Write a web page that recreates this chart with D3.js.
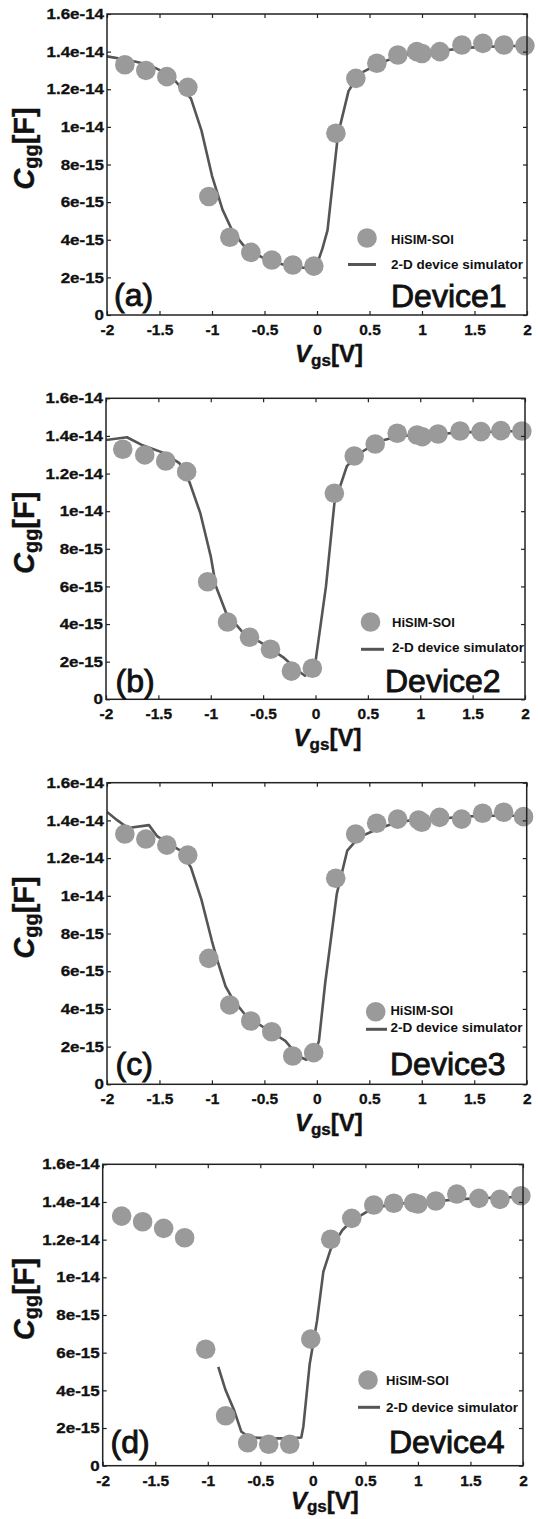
<!DOCTYPE html>
<html>
<head>
<meta charset="utf-8">
<script src="https://cdn.jsdelivr.net/npm/d3@7"></script>
<style>
  body { margin: 0; background: #fff; }
  text { font-family: "Liberation Sans", Arial, sans-serif; }
</style>
</head>
<body>
<script>
// ---- chart data (Cgg in units of 1e-15 F, Vgs in V) ----
var panelLabels = ["(a)", "(b)", "(c)", "(d)"];
var deviceNames = ["Device1", "Device2", "Device3", "Device4"];
var legendNames = ["HiSIM-SOI", "2-D device simulator"];

var xTicks = [-2, -1.5, -1, -0.5, 0, 0.5, 1, 1.5, 2];
var xTickLabels = ["-2", "-1.5", "-1", "-0.5", "0", "0.5", "1", "1.5", "2"];
var yTicks = [0, 2, 4, 6, 8, 10, 12, 14, 16];
var yTickLabels = ["0", "2e-15", "4e-15", "6e-15", "8e-15", "1e-14", "1.2e-14", "1.4e-14", "1.6e-14"];

// HiSIM-SOI (circles)
var hisimVgs1 = [-1.83, -1.63, -1.43, -1.23, -1.03, -0.83, -0.63, -0.43, -0.23, -0.03, 0.18, 0.37, 0.57, 0.77, 0.95, 1.0, 1.17, 1.38, 1.58, 1.78, 1.98];
var hisimCgg1 = [13.3, 13.0, 12.67, 12.1, 6.3, 4.13, 3.33, 2.92, 2.66, 2.6, 9.66, 12.58, 13.38, 13.82, 14.0, 13.9, 14.0, 14.35, 14.44, 14.35, 14.32];
var hisimVgs2 = [-1.84, -1.63, -1.43, -1.23, -1.03, -0.84, -0.63, -0.43, -0.23, -0.03, 0.18, 0.37, 0.57, 0.78, 0.97, 1.02, 1.17, 1.38, 1.58, 1.77, 1.97];
var hisimCgg2 = [13.29, 12.99, 12.67, 12.1, 6.25, 4.11, 3.3, 2.66, 1.5, 1.65, 10.95, 12.93, 13.57, 14.14, 14.05, 13.96, 14.1, 14.26, 14.23, 14.28, 14.26];
var hisimVgs3 = [-1.83, -1.63, -1.43, -1.23, -1.03, -0.83, -0.63, -0.43, -0.23, -0.03, 0.18, 0.37, 0.57, 0.77, 0.97, 1.0, 1.17, 1.38, 1.58, 1.78, 1.97];
var hisimCgg3 = [13.28, 13.01, 12.69, 12.16, 6.68, 4.21, 3.36, 2.79, 1.5, 1.68, 10.93, 13.28, 13.85, 14.07, 14.02, 13.9, 14.16, 14.07, 14.38, 14.43, 14.2];
var hisimVgs4 = [-1.82, -1.62, -1.42, -1.22, -1.02, -0.83, -0.62, -0.42, -0.22, -0.02, 0.17, 0.37, 0.58, 0.77, 0.96, 1.0, 1.17, 1.37, 1.58, 1.78, 1.98];
var hisimCgg4 = [13.25, 12.95, 12.6, 12.1, 6.18, 2.65, 1.22, 1.14, 1.14, 6.72, 12.02, 13.13, 13.84, 13.93, 13.96, 13.89, 14.05, 14.42, 14.19, 14.14, 14.33];

// 2-D device simulator (lines)
var simVgs1 = [-2, -1.8, -1.6, -1.4, -1.2, -1.1, -1.0, -0.9, -0.8, -0.7, -0.6, -0.5, -0.4, -0.3, -0.2, -0.1, 0.0, 0.05, 0.1, 0.2, 0.3, 0.4, 0.6, 0.8, 1.0, 1.2, 1.4, 1.6, 1.8, 2.0];
var simCgg1 = [13.75, 13.55, 13.3, 12.75, 11.5, 9.8, 7.4, 5.6, 4.4, 3.7, 3.3, 3.0, 2.8, 2.65, 2.55, 2.5, 2.7, 3.5, 4.5, 9.6, 11.9, 12.8, 13.4, 13.8, 14.0, 14.05, 14.2, 14.25, 14.3, 14.3];
var simVgs2 = [-2, -1.8, -1.65, -1.45, -1.3, -1.2, -1.1, -1.0, -0.95, -0.85, -0.7, -0.5, -0.3, -0.15, -0.1, -0.02, 0.0, 0.1, 0.18, 0.3, 0.4, 0.6, 0.8, 1.0, 1.2, 1.4, 1.6, 1.8, 2.0];
var simCgg2 = [13.78, 13.93, 13.5, 13.1, 12.55, 11.5, 9.9, 7.6, 6.0, 4.55, 3.6, 2.95, 2.2, 1.45, 1.25, 1.6, 2.0, 6.0, 10.4, 12.4, 13.0, 13.7, 14.0, 14.05, 14.1, 14.2, 14.2, 14.25, 14.25];
var simVgs3 = [-2, -1.9, -1.8, -1.6, -1.52, -1.42, -1.3, -1.2, -1.1, -1.0, -0.95, -0.87, -0.8, -0.67, -0.5, -0.3, -0.18, -0.1, -0.02, 0.02, 0.08, 0.12, 0.19, 0.29, 0.4, 0.6, 0.8, 1.0, 1.2, 1.4, 1.6, 1.8, 2.0];
var simCgg3 = [14.45, 14.0, 13.6, 13.75, 13.15, 12.8, 12.4, 11.5, 9.8, 7.6, 6.6, 5.2, 4.5, 3.6, 3.0, 2.3, 1.5, 1.3, 1.6, 2.3, 5.4, 7.1, 10.1, 12.4, 13.1, 13.6, 13.95, 14.05, 14.1, 14.2, 14.25, 14.25, 14.25];
var simVgs4 = [-0.9, -0.83, -0.75, -0.68, -0.6, -0.4, -0.2, -0.11, -0.09, -0.03, 0.04, 0.1, 0.17, 0.28, 0.37, 0.58, 0.8, 1.0, 1.2, 1.4, 1.6, 1.8, 2.0];
var simCgg4 = [5.25, 4.0, 2.95, 1.8, 1.5, 1.45, 1.45, 1.5, 2.1, 5.4, 7.7, 10.3, 11.5, 12.5, 13.0, 13.7, 13.9, 14.0, 14.05, 14.15, 14.2, 14.25, 14.25];

var hisimVgs = [hisimVgs1, hisimVgs2, hisimVgs3, hisimVgs4];
var hisimCgg = [hisimCgg1, hisimCgg2, hisimCgg3, hisimCgg4];
var simVgs = [simVgs1, simVgs2, simVgs3, simVgs4];
var simCgg = [simCgg1, simCgg2, simCgg3, simCgg4];

// ---- layout ----
var W = 538, H = 1519;
var boxes = [
    {l: 107, t: 14, r: 527, b: 315},
    {l: 106, t: 398.3, r: 525, b: 699.3},
    {l: 107, t: 782.7, r: 526.7, b: 1084.3},
    {l: 102.7, t: 1164.3, r: 523, b: 1465.7}
];
// distance of the x axis title baseline below each plot
var xTitleGap = [47, 47, 47, 43];
// legend / annotation positions (absolute px)
var legendPos = [
    {cx: 367, cy: 238, tx: 391, t1: 243.5, lx1: 348, lx2: 376, ly: 264.5, t2: 269, dx: 391, dy: 307, px: 114, py: 306},
    {cx: 370.5, cy: 622, tx: 392, t1: 626.7, lx1: 361, lx2: 384, ly: 649.3, t2: 651.7, dx: 385, dy: 691.7, px: 115.5, py: 691.5},
    {cx: 375.7, cy: 1011.7, tx: 390.4, t1: 1015, lx1: 366, lx2: 387, ly: 1029.3, t2: 1032.3, dx: 390, dy: 1075, px: 115.5, py: 1075},
    {cx: 368, cy: 1380, tx: 386, t1: 1385, lx1: 358, lx2: 380, ly: 1407.3, t2: 1411.7, dx: 389, dy: 1453.3, px: 110.5, py: 1453}
];

var circleColor = "#9a9a9a";
var lineColor = "#555555";
var inkColor = "#111";

var svg = d3.select("body").append("svg")
    .attr("width", W)
    .attr("height", H);

for (var i = 0; i < 4; i++) {
    drawPanel(i);
}

function drawPanel(i) {
    var box = boxes[i];
    var lp = legendPos[i];

    var x = d3.scaleLinear().domain([-2, 2]).range([box.l, box.r]);
    var y = d3.scaleLinear().domain([0, 16]).range([box.b, box.t]);

    var g = svg.append("g");

    // clip so lines stay inside the frame
    var clipId = "clip" + i;
    g.append("clipPath").attr("id", clipId)
        .append("rect")
        .attr("x", box.l).attr("y", box.t)
        .attr("width", box.r - box.l).attr("height", box.b - box.t);

    // simulator line (behind circles)
    var pts = simVgs[i].map(function(v, k) { return [v, simCgg[i][k]]; });
    var line = d3.line().x(function(d) { return x(d[0]); }).y(function(d) { return y(d[1]); });
    g.append("path")
        .datum(pts)
        .attr("clip-path", "url(#" + clipId + ")")
        .attr("d", line)
        .attr("fill", "none")
        .attr("stroke", lineColor)
        .attr("stroke-width", 2.6)
        .attr("stroke-linejoin", "round");

    // HiSIM-SOI circles
    var circ = hisimVgs[i].map(function(v, k) { return [v, hisimCgg[i][k]]; });
    g.selectAll("circle.pt")
        .data(circ)
        .enter().append("circle")
        .attr("class", "pt")
        .attr("cx", function(d) { return x(d[0]); })
        .attr("cy", function(d) { return y(d[1]); })
        .attr("r", 9.8)
        .attr("fill", circleColor);

    // axes with inward ticks
    var xAxis = d3.axisBottom(x).tickValues(xTicks)
        .tickFormat(function(d, k) { return xTickLabels[k]; })
        .tickSize(-4).tickPadding(9);
    var gx = g.append("g").attr("transform", "translate(0," + box.b + ")").call(xAxis);

    var yAxis = d3.axisLeft(y).tickValues(yTicks)
        .tickFormat(function(d, k) { return yTickLabels[k]; })
        .tickSize(-4).tickPadding(3);
    var gy = g.append("g").attr("transform", "translate(" + box.l + ",0)").call(yAxis);

    var gt = g.append("g").attr("transform", "translate(0," + box.t + ")")
        .call(d3.axisTop(x).tickValues(xTicks).tickFormat("").tickSize(-4));
    var gr = g.append("g").attr("transform", "translate(" + box.r + ",0)")
        .call(d3.axisRight(y).tickValues(yTicks).tickFormat("").tickSize(-4));

    [gx, gy, gt, gr].forEach(function(a) {
        a.select(".domain").remove();
        a.selectAll(".tick line").attr("stroke", "#222").attr("stroke-width", 1.2);
    });
    gx.selectAll("text")
        .attr("fill", inkColor)
        .attr("stroke", inkColor).attr("stroke-width", 0.3)
        .style("font-size", "15.5px")
        .style("font-weight", "bold");
    // y tick labels are a bit wider in the original: stretch horizontally
    var sx = 1.17;
    gy.selectAll("text")
        .attr("fill", inkColor)
        .attr("stroke", inkColor).attr("stroke-width", 0.3)
        .style("font-size", "14.5px")
        .style("font-weight", "bold")
        .attr("x", -3 / sx)
        .attr("transform", "scale(" + sx + ",1)");

    // frame
    g.append("rect")
        .attr("x", box.l).attr("y", box.t)
        .attr("width", box.r - box.l).attr("height", box.b - box.t)
        .attr("fill", "none")
        .attr("stroke", "#222")
        .attr("stroke-width", 1.5);

    // y axis title  C_gg[F]
    var midY = (box.t + box.b) / 2 - 16;
    var yt = g.append("text")
        .attr("transform", "translate(34," + midY + ") rotate(-90)")
        .attr("text-anchor", "middle")
        .attr("fill", inkColor)
        .attr("stroke", inkColor).attr("stroke-width", 0.4)
        .style("font-weight", "bold");
    yt.append("tspan").text("C").style("font-style", "italic").style("font-size", "29px");
    yt.append("tspan").text("gg").style("font-size", "20px").attr("dy", 4);
    yt.append("tspan").text("[F]").style("font-size", "29px").attr("dy", -4);

    // x axis title  V_gs[V]
    var xt = g.append("text")
        .attr("x", (box.l + box.r) / 2 + 12)
        .attr("y", box.b + xTitleGap[i])
        .attr("text-anchor", "middle")
        .attr("fill", inkColor)
        .attr("stroke", inkColor).attr("stroke-width", 0.4)
        .style("font-weight", "bold");
    xt.append("tspan").text("V").style("font-style", "italic").style("font-size", "24px");
    xt.append("tspan").text("gs").style("font-size", "17px").attr("dy", 3.5);
    xt.append("tspan").text("[V]").style("font-size", "24px").attr("dy", -3.5);

    // legend
    g.append("circle")
        .attr("cx", lp.cx).attr("cy", lp.cy).attr("r", 9.8)
        .attr("fill", circleColor);
    g.append("text")
        .attr("x", lp.tx).attr("y", lp.t1)
        .attr("fill", inkColor)
        .style("font-size", "13px").style("font-weight", "bold")
        .text(legendNames[0]);
    g.append("line")
        .attr("x1", lp.lx1).attr("x2", lp.lx2)
        .attr("y1", lp.ly).attr("y2", lp.ly)
        .attr("stroke", lineColor).attr("stroke-width", 3);
    g.append("text")
        .attr("x", lp.tx).attr("y", lp.t2)
        .attr("fill", inkColor)
        .style("font-size", "13.5px").style("font-weight", "bold")
        .text(legendNames[1]);

    // device name and panel label
    g.append("text")
        .attr("x", lp.dx).attr("y", lp.dy)
        .attr("fill", inkColor)
        .attr("stroke", inkColor).attr("stroke-width", 0.9)
        .style("font-size", "32px")
        .text(deviceNames[i]);
    g.append("text")
        .attr("x", lp.px).attr("y", lp.py)
        .attr("fill", inkColor)
        .attr("stroke", inkColor).attr("stroke-width", 0.9)
        .style("font-size", "32px")
        .text(panelLabels[i]);
}
</script>
</body>
</html>
